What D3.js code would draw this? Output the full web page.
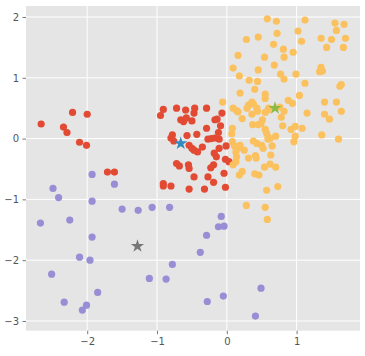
<!DOCTYPE html>
<html><head><meta charset="utf-8">
<script src="https://cdn.jsdelivr.net/npm/d3@7"></script>
<style>html,body{margin:0;padding:0;background:#fff;}svg{display:block;}</style>
</head><body>
<script>
const xTicks = [-2, -1, 0, 1];
const yTicks = [-3, -2, -1, 0, 1, 2];
const xDomain = [-2.877, 1.908];
const yDomain = [-3.16, 2.181];

const clusterRed = [
 [-2.66,0.24],[-2.21,0.43],[-2.00,0.40],[-2.34,0.19],[-2.29,0.10],[-2.11,-0.06],[-2.01,-0.11],
 [-1.71,-0.55],[-1.61,-0.55],[-0.91,0.48],[-0.95,0.38],[-0.72,0.50],[-0.59,0.47],[-0.46,0.50],
 [-0.47,0.42],[-0.29,0.50],[-0.66,0.31],[-0.62,0.28],[-0.58,0.34],[-0.50,0.29],[-0.07,0.42],
 [-0.17,0.31],[-0.14,0.32],[-0.09,0.21],[-0.29,0.17],[-0.12,0.10],[-0.78,0.06],[-0.80,0.01],
 [-0.57,0.05],[-0.43,0.07],[-0.27,-0.01],[-0.22,0.00],[-0.17,0.01],[-0.11,-0.01],[-0.54,-0.11],
 [-0.50,-0.16],[-0.47,-0.19],[-0.42,-0.22],[-0.35,-0.14],[-0.11,-0.16],[-0.01,-0.12],[-0.18,-0.24],
 [-0.15,-0.30],[-0.02,-0.34],[0.03,-0.38],[-0.72,-0.41],[-0.68,-0.45],[-0.55,-0.43],[-0.54,-0.49],
 [-0.23,-0.48],[-0.19,-0.43],[-0.04,-0.57],[-0.47,-0.63],[-0.27,-0.63],[-0.19,-0.72],[-0.91,-0.74],
 [-0.91,-0.78],[-0.80,-0.78],[-0.54,-0.83],[-0.32,-0.83],[-0.02,-0.80],[-0.76,-0.04]
];

const clusterPurple = [
 [-1.93,-0.59],[-1.61,-0.75],[-2.49,-0.82],[-2.41,-0.97],[-1.93,-1.03],[-1.50,-1.16],[-2.25,-1.34],
 [-2.67,-1.39],[-1.93,-1.62],[-2.11,-1.95],[-1.96,-2.00],[-2.51,-2.23],[-1.85,-2.53],[-2.33,-2.69],
 [-2.01,-2.74],[-2.07,-2.82],[-1.27,-1.18],[-1.07,-1.13],[-0.82,-1.13],[-0.08,-1.28],[-0.12,-1.45],
 [-0.04,-1.44],[-0.29,-1.59],[-0.38,-1.87],[-0.78,-2.07],[-1.11,-2.30],[-0.87,-2.31],[-0.28,-2.68],
 [-0.05,-2.59],[0.49,-2.46],[0.41,-2.92]
];

const clusterYellow = [
 [0.58,1.97],[0.71,1.93],[1.12,1.95],[1.55,1.90],[1.68,1.88],[1.57,1.78],[0.72,1.73],[1.02,1.77],
 [0.28,1.63],[0.45,1.67],[1.35,1.65],[1.50,1.63],[1.70,1.65],[1.07,1.60],[0.67,1.55],[0.81,1.47],
 [1.43,1.50],[1.67,1.50],[0.95,1.42],[0.16,1.37],[0.54,1.34],[0.82,1.34],[0.68,1.21],[0.09,1.16],
 [0.45,1.13],[1.35,1.17],[1.33,1.10],[1.37,1.11],[0.18,1.03],[0.77,1.06],[0.82,0.98],[0.99,1.06],
 [0.32,0.96],[0.44,0.94],[1.12,0.91],[1.64,0.89],[1.62,0.86],[0.40,0.81],[0.19,0.75],[0.55,0.73],
 [0.55,0.66],[1.04,0.71],[-0.06,0.60],[0.36,0.60],[0.38,0.57],[0.31,0.55],[0.29,0.50],[0.43,0.50],
 [0.44,0.45],[0.88,0.63],[0.94,0.58],[1.40,0.60],[1.57,0.60],[0.09,0.50],[0.14,0.46],[0.16,0.44],
 [0.36,0.40],[0.22,0.33],[0.55,0.43],[0.59,0.47],[0.60,0.50],[0.76,0.52],[0.82,0.45],[0.78,0.35],
 [1.15,0.42],[1.40,0.40],[1.64,0.45],[1.47,0.32],[0.51,0.31],[0.49,0.25],[0.37,0.23],[0.45,0.23],
 [0.55,0.15],[0.57,0.09],[0.59,0.03],[0.08,0.17],[0.07,0.08],[0.80,0.21],[0.92,0.15],[0.98,0.20],
 [1.08,0.17],[0.98,0.04],[0.96,-0.05],[0.70,0.04],[1.36,0.06],[1.60,-0.01],[0.59,-0.01],[0.62,0.00],
 [0.38,-0.04],[0.43,-0.08],[0.50,-0.11],[0.52,-0.16],[0.08,-0.05],[0.11,-0.12],[0.16,-0.16],
 [0.13,-0.22],[0.25,-0.19],[0.19,-0.11],[0.65,-0.12],[0.41,-0.28],[0.42,-0.32],[0.31,-0.32],
 [0.63,-0.27],[0.14,-0.30],[0.13,-0.38],[0.09,-0.43],[0.54,-0.47],[0.62,-0.42],[0.70,-0.47],
 [0.22,-0.54],[0.18,-0.60],[0.40,-0.58],[0.46,-0.60],[0.73,-0.79],[0.57,-0.85],[0.28,-1.10],
 [0.55,-1.13],[0.58,-1.33]
];

const centroids = [[-0.66,-0.08],[0.69,0.50],[-1.28,-1.77]];
const centroidColors = ["#348ABD","#8EBA42","#777777"];

const W = 365, H = 356;
const m = {left: 26, right: 5, top: 6, bottom: 25.3};
const svg = d3.select("body").append("svg").attr("width", W).attr("height", H);
const x = d3.scaleLinear().domain(xDomain).range([m.left, W - m.right]);
const y = d3.scaleLinear().domain(yDomain).range([H - m.bottom, m.top]);

svg.append("rect").attr("x", m.left).attr("y", m.top)
  .attr("width", W - m.right - m.left).attr("height", H - m.bottom - m.top)
  .attr("fill", "#E5E5E5");

const g = svg.append("g");
g.selectAll(".gx").data(xTicks).join("line")
  .attr("x1", d => x(d)).attr("x2", d => x(d))
  .attr("y1", m.top).attr("y2", H - m.bottom)
  .attr("stroke", "#fff").attr("stroke-width", 1);
g.selectAll(".gy").data(yTicks).join("line")
  .attr("y1", d => y(d)).attr("y2", d => y(d))
  .attr("x1", m.left).attr("x2", W - m.right)
  .attr("stroke", "#fff").attr("stroke-width", 1);

const fmt = d => d < 0 ? "\u2212" + Math.abs(d) : String(d);
const xAxis = d3.axisBottom(x).tickValues(xTicks).tickFormat(fmt).tickSize(3.5).tickPadding(3.5);
const yAxis = d3.axisLeft(y).tickValues(yTicks).tickFormat(fmt).tickSize(3.5).tickPadding(3.5);
const ax = svg.append("g").attr("transform", `translate(0,${H - m.bottom})`).call(xAxis);
const ay = svg.append("g").attr("transform", `translate(${m.left},0)`).call(yAxis);
[ax, ay].forEach(a => {
  a.select(".domain").remove();
  a.selectAll(".tick line").attr("stroke", "#555555").attr("stroke-width", 0.8);
  a.selectAll(".tick text").attr("fill", "#555555")
    .style("font-family", "DejaVu Sans").style("font-size", "10px");
});

const r = 3.6;
const drawCluster = (data, color) => {
  svg.append("g").selectAll("circle").data(data).join("circle")
    .attr("cx", d => x(d[0])).attr("cy", d => y(d[1])).attr("r", r)
    .attr("fill", color);
};
drawCluster(clusterRed, "#E24A33");
drawCluster(clusterYellow, "#FBC15E");
drawCluster(clusterPurple, "#988ED5");

const star = d3.symbol().type(d3.symbolStar).size(55);
svg.append("g").selectAll("path").data(centroids).join("path")
  .attr("d", star)
  .attr("transform", d => `translate(${x(d[0])},${y(d[1])})`)
  .attr("fill", (d, i) => centroidColors[i]);
</script>
</body></html>
